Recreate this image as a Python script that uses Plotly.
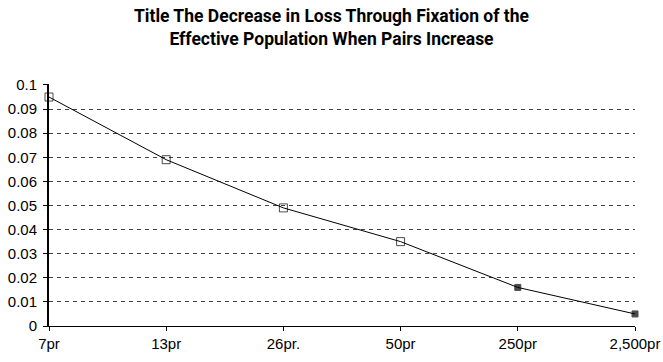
import plotly.graph_objects as go

# Pair-count categories and the loss through fixation for each
categories = ["7pr", "13pr", "26pr.", "50pr", "250pr", "2,500pr"]
loss = [0.095, 0.069, 0.049, 0.035, 0.016, 0.005]
open_marker = [True, True, True, True, False, False]

y_ticks = [0, 0.01, 0.02, 0.03, 0.04, 0.05, 0.06, 0.07, 0.08, 0.09, 0.1]
y_labels = ["0", "0.01", "0.02", "0.03", "0.04", "0.05", "0.06", "0.07", "0.08", "0.09", "0.1"]

x_pos = list(range(len(categories)))

fig = go.Figure()
fig.add_trace(go.Scatter(
    x=x_pos, y=loss, mode="lines+markers",
    line=dict(color="black", width=1),
    marker=dict(
        symbol=["square-open" if o else "square" for o in open_marker],
        size=[8 if o else 6 for o in open_marker],
        color="black",
        line=dict(color="black", width=1),
    ),
    showlegend=False,
    hoverinfo="skip",
    cliponaxis=False,
))

fig.update_layout(
    width=663, height=362,
    margin=dict(l=49, r=28, t=84, b=36),
    paper_bgcolor="white", plot_bgcolor="white",
    title=dict(
        text="Title The Decrease in Loss Through Fixation of the<br>Effective Population When Pairs Increase",
        x=0.5, xanchor="center", xref="container",
        y=1 - 22 / 362, yanchor="middle", yref="container",
        font=dict(family="Roboto, sans-serif", size=17.5, color="black", weight="bold"),
    ),
    font=dict(family="Liberation Sans, Arial, sans-serif", size=15, color="black"),
)

fig.update_xaxes(
    range=[0, len(categories) - 1],
    tickvals=x_pos, ticktext=categories,
    showgrid=False, zeroline=False,
    showline=True, linecolor="black", linewidth=1,
    ticks="outside", ticklen=4, tickcolor="black",
    tickfont=dict(size=15), automargin=False,
)
fig.update_yaxes(
    range=[0, 0.1004],
    tickvals=y_ticks, ticktext=y_labels,
    showgrid=True, gridcolor="#444444", gridwidth=1, griddash="4px,4px",
    zeroline=False,
    showline=True, linecolor="black", linewidth=2,
    ticks="outside", ticklen=4, tickcolor="black",
    tickfont=dict(size=15), ticklabelstandoff=3, automargin=False,
)

fig.write_html("out.html")
